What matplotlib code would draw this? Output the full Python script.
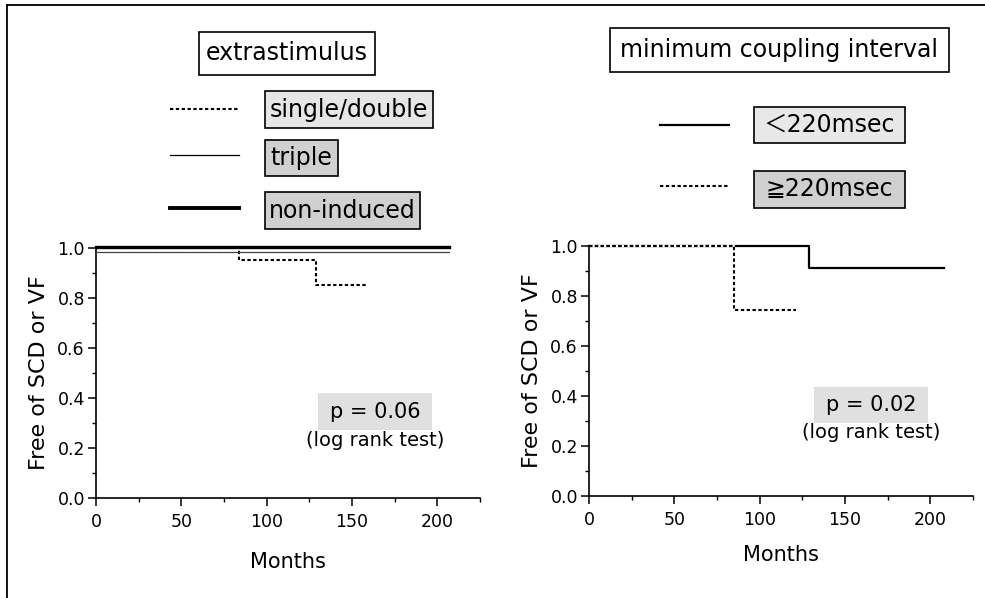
import matplotlib
matplotlib.use("Agg")
import matplotlib.pyplot as plt
from matplotlib.patches import Rectangle
from matplotlib.lines import Line2D
from matplotlib.ticker import MultipleLocator

plt.rcParams["font.family"] = ["DejaVu Sans", "Noto Sans CJK JP"]

# --- datos (Kaplan-Meier) ---
# panel izquierdo: extrastimulus
single_t = [0, 84, 129, 159]
single_s = [1.0, 0.95, 0.85, 0.85]
triple_t = [0, 207]
triple_s = [0.985, 0.985]
noninduced_t = [0, 207]
noninduced_s = [1.003, 1.003]
p_left = "p = 0.06"

# panel derecho: minimum coupling interval
lt220_t = [0, 129, 208]
lt220_s = [1.0, 0.91, 0.91]
ge220_t = [0, 85, 121]
ge220_s = [1.0, 0.745, 0.745]
p_right = "p = 0.02"

x_ticks = [0, 50, 100, 150, 200]
y_ticks = [0.0, 0.2, 0.4, 0.6, 0.8, 1.0]

W, H = 985, 598
fig = plt.figure(figsize=(W / 100, H / 100), dpi=100)


def fx(x):
    return x / W


def fy(y):
    return 1 - y / H


def box(x0, y0, x1, y1, fc, ec="black", lw=1.2):
    fig.add_artist(Rectangle((fx(x0), fy(y1)), fx(x1) - fx(x0), fy(y0) - fy(y1),
                             transform=fig.transFigure, facecolor=fc,
                             edgecolor=ec, linewidth=lw))


def label_box(x0, y0, x1, y1, text, fc, size=17):
    box(x0, y0, x1, y1, fc)
    fig.text(fx((x0 + x1) / 2), fy((y0 + y1) / 2), text, ha="center",
             va="center", fontsize=size)


def key_line(y, **kw):
    fig.add_artist(Line2D([fx(x) for x in (x_key0, x_key1)], [fy(y), fy(y)],
                          transform=fig.transFigure, color="black", **kw))


dotted = (0, (1.6, 1.2))


def style_axes(ax, xlab_y):
    ax.set_xlim(0, 225)
    ax.set_ylim(0, 1.0)
    ax.set_xticks(x_ticks)
    ax.set_yticks(y_ticks)
    ax.set_yticklabels([f"{v:.1f}" for v in y_ticks])
    ax.xaxis.set_minor_locator(MultipleLocator(25))
    ax.yaxis.set_minor_locator(MultipleLocator(0.1))
    ax.spines["top"].set_visible(False)
    ax.spines["right"].set_visible(False)
    for s in ("left", "bottom"):
        ax.spines[s].set_linewidth(1.2)
    ax.tick_params(axis="both", which="major", direction="out", length=6,
                   width=1.1, labelsize=12.5)
    ax.tick_params(axis="both", which="minor", direction="out", length=3,
                   width=1.0)
    ax.tick_params(axis="y", pad=2)
    ax.tick_params(axis="x", pad=5)
    ax.set_ylabel("Free of SCD or VF", fontsize=16)
    ax.set_xlabel("Months", fontsize=15)
    ax.yaxis.set_label_coords(-0.123, 0.5)
    ax.xaxis.set_label_coords(0.5, xlab_y)
    ax.patch.set_alpha(0)


# --- panel izquierdo ---
ax1 = fig.add_axes([fx(96), fy(498), 384 / W, 250 / H])
ax1.step(noninduced_t, noninduced_s, where="post", color="black", lw=2.4,
         clip_on=False, zorder=3)
ax1.step(triple_t, triple_s, where="post", color="#444444", lw=0.9,
         clip_on=False, zorder=3)
ax1.step(single_t, single_s, where="post", color="black", lw=1.5,
         linestyle=dotted, clip_on=False, zorder=2)
style_axes(ax1, -0.215)

# --- panel derecho ---
ax2 = fig.add_axes([fx(589), fy(496), 384 / W, 250 / H])
ax2.step(lt220_t, lt220_s, where="post", color="black", lw=1.6,
         clip_on=False, zorder=2)
ax2.step(ge220_t, ge220_s, where="post", color="black", lw=1.5,
         linestyle=dotted, gapcolor="white", clip_on=False, zorder=3)
style_axes(ax2, -0.195)

# --- leyendas ---
label_box(199, 32, 375, 75, "extrastimulus", "white")
label_box(265, 91, 433, 128, "single/double", "#e6e6e6")
label_box(265, 140, 338, 176, "triple", "#d0d0d0")
label_box(265, 192, 420, 229, "non-induced", "#d0d0d0")
x_key0, x_key1 = 170, 239
key_line(109, lw=1.5, linestyle=dotted)
key_line(155, lw=0.9)
key_line(208, lw=2.8)

label_box(610, 28, 949, 72, "minimum coupling interval", "white")
label_box(754, 107, 905, 143, "＜220msec", "#e8e8e8")
label_box(754, 171, 905, 208, "≧220msec", "#d0d0d0")
x_key0, x_key1 = 660, 729
key_line(125, lw=1.6)
key_line(186, lw=1.5, linestyle=dotted)

# --- p valores ---
box(318, 393, 432, 430, "#e0e0e0", ec="none", lw=0)
fig.text(fx(375), fy(411.5), p_left, ha="center", va="center", fontsize=15)
fig.text(fx(375), fy(440), "(log rank test)", ha="center", va="center",
         fontsize=14)
box(814, 387, 928, 423, "#e0e0e0", ec="none", lw=0)
fig.text(fx(871), fy(405), p_right, ha="center", va="center", fontsize=15)
fig.text(fx(871), fy(432), "(log rank test)", ha="center", va="center",
         fontsize=14)

# --- marco ---
fig.add_artist(Line2D([fx(7), fx(7)], [fy(5), fy(598)],
                      transform=fig.transFigure, color="black", lw=1.3))
fig.add_artist(Line2D([fx(7), fx(985)], [fy(5), fy(5)],
                      transform=fig.transFigure, color="black", lw=1.3))

fig.savefig("out.png", dpi=100)
